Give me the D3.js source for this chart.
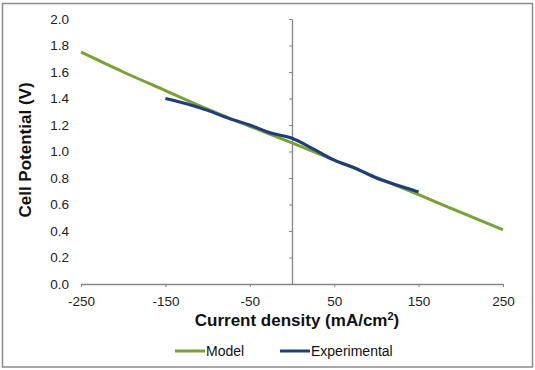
<!DOCTYPE html>
<html>
<head>
<meta charset="utf-8">
<script src="https://cdn.jsdelivr.net/npm/d3@7"></script>
<style>
  body { margin: 0; background: #fff; }
  text { font-family: "Liberation Sans", Arial, sans-serif; }
</style>
</head>
<body>
<script>
// model curve (current density mA/cm2, cell potential V)
var modelX = [-250, -200, -150, -100, -50, 0, 50, 100, 150, 200, 250];
var modelY = [1.75, 1.60, 1.46, 1.32, 1.19, 1.065, 0.935, 0.805, 0.675, 0.54, 0.41];
// experimental points
var expX = [-150, -125, -100, -75, -50, -25, 0, 25, 50, 75, 100, 125, 150];
var expY = [1.40, 1.36, 1.31, 1.25, 1.20, 1.14, 1.10, 1.02, 0.935, 0.875, 0.80, 0.745, 0.695];
var xTicks = [-250, -150, -50, 50, 150, 250];
var yTicks = [0, 0.2, 0.4, 0.6, 0.8, 1.0, 1.2, 1.4, 1.6, 1.8, 2.0];
var seriesNames = ["Model", "Experimental"];
var seriesColors = ["#78a136", "#1d3e7b"];

var width = 535, height = 370;
var svg = d3.select("body").append("svg")
    .attr("width", width)
    .attr("height", height);

// outer frame
svg.append("rect")
    .attr("x", 2.5).attr("y", 3.5)
    .attr("width", 530).attr("height", 363.5)
    .attr("fill", "#fff")
    .attr("stroke", "#8c8c8c")
    .attr("stroke-width", 1.5);

var x = d3.scaleLinear().domain([-250, 250]).range([81, 503]);
var y = d3.scaleLinear().domain([0, 2]).range([284, 19]);

// x axis along V = 0 (plain hyphen minus like the original)
var xAxis = svg.append("g")
    .attr("transform", "translate(0," + y(0) + ")")
    .call(d3.axisBottom(x).tickValues(xTicks).tickSize(3).tickSizeOuter(0).tickPadding(9)
        .tickFormat(function(d) { return String(d); }));
xAxis.select(".domain").attr("stroke", "#868686").attr("stroke-width", 1.3);
xAxis.selectAll(".tick line").attr("stroke", "#868686");
xAxis.selectAll(".tick text").attr("font-size", 13.5).attr("fill", "#222");

// y axis line sits at current = 0, labels sit at the left
var yAxis = svg.append("g")
    .attr("transform", "translate(" + x(0) + ",0)")
    .call(d3.axisLeft(y).tickValues(yTicks).tickSize(3).tickSizeOuter(0));
yAxis.select(".domain").attr("stroke", "#868686").attr("stroke-width", 1.3);
yAxis.selectAll(".tick line").attr("stroke", "#868686");
yAxis.selectAll(".tick text").remove();

svg.append("g").selectAll("text")
    .data(yTicks)
    .enter()
    .append("text")
    .attr("x", 69)
    .attr("y", function(d) { return y(d); })
    .attr("dy", "0.35em")
    .attr("text-anchor", "end")
    .attr("font-size", 13.5)
    .attr("fill", "#222")
    .text(function(d) { return d.toFixed(1); });

var line = d3.line()
    .x(function(d) { return x(d[0]); })
    .y(function(d) { return y(d[1]); })
    .curve(d3.curveMonotoneX);

var modelData = modelX.map(function(v, i) { return [v, modelY[i]]; });
var expData = expX.map(function(v, i) { return [v, expY[i]]; });

svg.append("path")
    .datum(modelData)
    .attr("fill", "none")
    .attr("stroke", seriesColors[0])
    .attr("stroke-width", 3)
    .attr("d", line);

svg.append("path")
    .datum(expData)
    .attr("fill", "none")
    .attr("stroke", seriesColors[1])
    .attr("stroke-width", 3)
    .attr("d", line);

// axis titles
svg.append("text")
    .attr("x", 297)
    .attr("y", 326)
    .attr("text-anchor", "middle")
    .attr("font-size", 17)
    .attr("font-weight", "bold")
    .attr("fill", "#111")
    .html("Current density (mA/cm<tspan font-size='11' dy='-6'>2</tspan><tspan dy='6'>)</tspan>");

svg.append("text")
    .attr("transform", "translate(31,150) rotate(-90)")
    .attr("text-anchor", "middle")
    .attr("font-size", 17)
    .attr("font-weight", "bold")
    .attr("fill", "#111")
    .text("Cell Potential (V)");

// legend
var legendX = [175, 280];
var legend = svg.selectAll(".legend")
    .data(seriesNames)
    .enter()
    .append("g")
    .attr("class", "legend")
    .attr("transform", function(d, i) { return "translate(" + legendX[i] + ",351)"; });
legend.append("line")
    .attr("x1", 0).attr("x2", 30)
    .attr("stroke", function(d, i) { return seriesColors[i]; })
    .attr("stroke-width", 3);
legend.append("text")
    .attr("x", 31)
    .attr("dy", "0.35em")
    .attr("font-size", 14)
    .attr("fill", "#111")
    .text(function(d) { return d; });
</script>
</body>
</html>
